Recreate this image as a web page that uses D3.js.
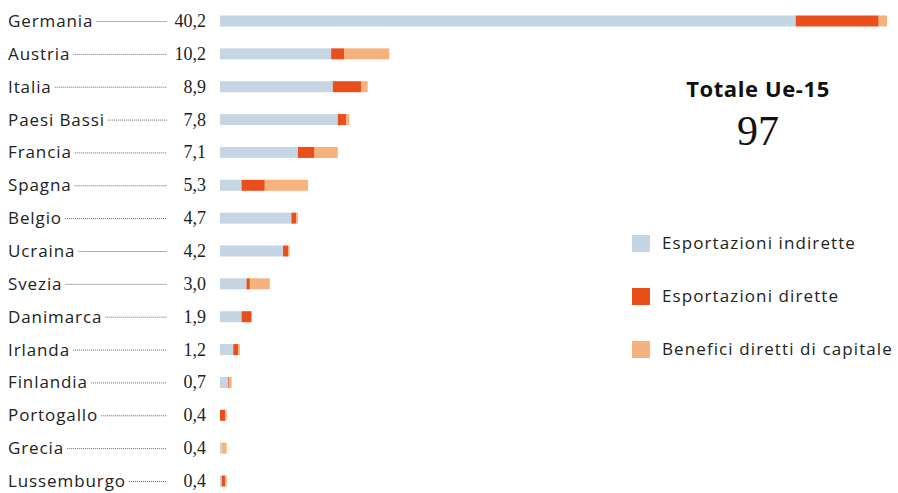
<!DOCTYPE html>
<html><head><meta charset="utf-8">
<script src="https://cdn.jsdelivr.net/npm/d3@7"></script>
<style>body{margin:0;background:#fff}svg{display:block}</style>
</head><body>
<svg id="c" width="898" height="493"></svg>
<script>
const countries = ["Germania","Austria","Italia","Paesi Bassi","Francia","Spagna","Belgio","Ucraina","Svezia","Danimarca","Irlanda","Finlandia","Portogallo","Grecia","Lussemburgo"];
const totals    = [40.2,10.2,8.9,7.8,7.1,5.3,4.7,4.2,3.0,1.9,1.2,0.7,0.4,0.4,0.4];
const indirect  = [34.7,6.7,6.8,7.1,4.7,1.3,4.3,3.8,1.6,1.3,0.8,0.5,0.0,0.1,0.1];
const direct    = [5.0,0.8,1.7,0.5,1.0,1.4,0.3,0.3,0.2,0.6,0.3,0.05,0.3,0.0,0.2];
const capital   = [0.5,2.7,0.4,0.2,1.4,2.6,0.1,0.1,1.2,0.0,0.1,0.15,0.1,0.3,0.1];
const seriesNames = ["Esportazioni indirette","Esportazioni dirette","Benefici diretti di capitale"];
const totalLabel = "Totale Ue-15";
const totalValue = 97;

const colors = ["#c5d5e3","#ea4e1b","#f6b27c"];
const svg = d3.select("#c");
const x = d3.scaleLinear().domain([0, 40.2]).range([220, 887]);
const y = d3.scalePoint().domain(countries).range([21, 481]);
const bh = 11;
const fmt = v => d3.format(".1f")(v).replace(".", ",");

const rows = countries.map((c,i)=>({c, t:totals[i], parts:[indirect[i],direct[i],capital[i]]}));

const g = svg.append("g");
rows.forEach(r=>{
  let acc = 0;
  r.parts.forEach((v,k)=>{
    if (v>0) {
      g.append("rect")
        .attr("x", x(acc)).attr("y", y(r.c)-bh/2)
        .attr("width", x(acc+v)-x(acc)).attr("height", bh)
        .attr("fill", colors[k]);
    }
    acc += v;
  });
});

// labels
const lab = svg.append("g");
rows.forEach(r=>{
  const t = lab.append("text").attr("x", 8).attr("y", y(r.c)+6)
    .attr("font-family","Open Sans, sans-serif").attr("font-size", 17).attr("letter-spacing", 0.9).attr("fill","#222")
    .text(r.c);
  const w = t.node().getComputedTextLength();
  lab.append("line").attr("x1", 8+w+3).attr("x2", 167)
    .attr("y1", y(r.c)+0.5).attr("y2", y(r.c)+0.5)
    .attr("stroke","#666").attr("stroke-width",1).attr("stroke-dasharray","1,1");
  lab.append("text").attr("x", 206).attr("y", y(r.c)+6).attr("text-anchor","end")
    .attr("font-family","Liberation Serif, serif").attr("font-size", 18).attr("fill","#222")
    .text(fmt(r.t));
});

// total
svg.append("text").attr("x", 758).attr("y", 97).attr("text-anchor","middle")
  .attr("font-family","Open Sans, sans-serif").attr("font-weight","bold").attr("font-size", 22).attr("letter-spacing", 0.6).attr("fill","#111")
  .text(totalLabel);
svg.append("text").attr("x", 758).attr("y", 145).attr("text-anchor","middle")
  .attr("font-family","Liberation Serif, serif").attr("font-size", 42).attr("fill","#111")
  .text(totalValue);

// legend
const ly = [243, 296, 349];
seriesNames.forEach((n,k)=>{
  svg.append("rect").attr("x", 632).attr("y", ly[k]-8).attr("width", 18).attr("height", 17).attr("fill", colors[k]);
  svg.append("text").attr("x", 662).attr("y", ly[k]+6)
    .attr("font-family","Open Sans, sans-serif").attr("font-size", 17).attr("letter-spacing", 1.1).attr("fill","#222")
    .text(n);
});
</script>
</body></html>
